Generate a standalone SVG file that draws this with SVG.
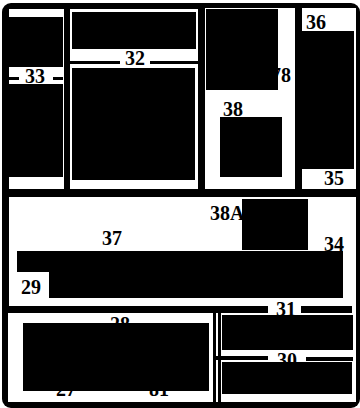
<svg xmlns="http://www.w3.org/2000/svg" width="360" height="408" viewBox="0 0 360 408">
<style>
.w{fill:#fff}
.b{fill:#000}
.t{font-family:"Liberation Serif","Times New Roman",serif;font-weight:bold;font-size:20px;fill:#000;text-anchor:middle}
</style>
<rect width="360" height="408" fill="#fff"/>
<g id="frame">
<rect x="2" y="3" width="358" height="405" rx="9" class="b"/>
<rect x="9" y="9" width="55" height="180" class="w"/>
<rect x="70" y="9" width="128" height="180" class="w"/>
<rect x="205" y="8" width="90" height="181" class="w"/>
<rect x="302" y="8" width="54" height="181" class="w"/>
<rect x="9" y="197" width="347" height="109" class="w"/>
<rect x="352" y="306" width="4" height="7" class="w"/>
<rect x="8" y="313" width="348" height="89" class="w"/>
</g>
<g id="n33">
<rect x="9" y="17" width="54" height="50" class="b"/>
<rect x="9" y="84" width="54" height="93" class="b"/>
<rect x="9" y="77" width="10" height="3" class="b"/>
<rect x="53" y="77" width="10" height="3" class="b"/>
<text x="35" y="83" class="t">33</text>
</g>
<g id="n32">
<rect x="72" y="12" width="124" height="37" class="b"/>
<rect x="72" y="68" width="123" height="112" class="b"/>
<rect x="70" y="61" width="50" height="3" class="b"/>
<rect x="150" y="61" width="48" height="3" class="b"/>
<text x="135" y="65" class="t">32</text>
</g>
<g id="n78">
<text x="291" y="82" class="t" style="text-anchor:end">78</text>
<rect x="206" y="9" width="72" height="81" class="b"/>
</g>
<g id="n38">
<rect x="220" y="117" width="62" height="60" class="b"/>
<text x="233" y="116" class="t">38</text>
</g>
<g id="n36">
<rect x="300" y="31" width="54" height="138" class="b"/>
<text x="316" y="29" class="t">36</text>
<text x="334" y="185" class="t">35</text>
</g>
<g id="n37">
<text x="112" y="245" class="t">37</text>
<text x="210" y="220" class="t" style="text-anchor:start">38A</text>
<rect x="242" y="199" width="66" height="51" class="b"/>
<path d="M17 251H343V298H49V272H17Z" class="b"/>
<text x="31" y="294" class="t">29</text>
<text x="334" y="251" class="t">34</text>
</g>
<g id="n31">
<rect x="268" y="305" width="33" height="9" class="w"/>
<text x="286" y="316" class="t">31</text>
</g>
<g id="n28">
<text x="120" y="331" class="t">28</text>
<text x="66" y="396" class="t">27</text>
<text x="159" y="396" class="t">81</text>
<rect x="23" y="323" width="186" height="68" class="b"/>
</g>
<g id="connectors">
<rect x="213" y="313" width="3" height="89" class="b"/>
<rect x="218" y="313" width="3" height="89" class="b"/>
<rect x="216" y="356" width="52" height="4" class="b"/>
<rect x="306" y="357" width="47" height="4" class="b"/>
</g>
<g id="n30">
<rect x="222" y="315" width="131" height="35" class="b"/>
<text x="287" y="367" class="t">30</text>
<rect x="222" y="362" width="130" height="32" class="b"/>
</g>
</svg>
